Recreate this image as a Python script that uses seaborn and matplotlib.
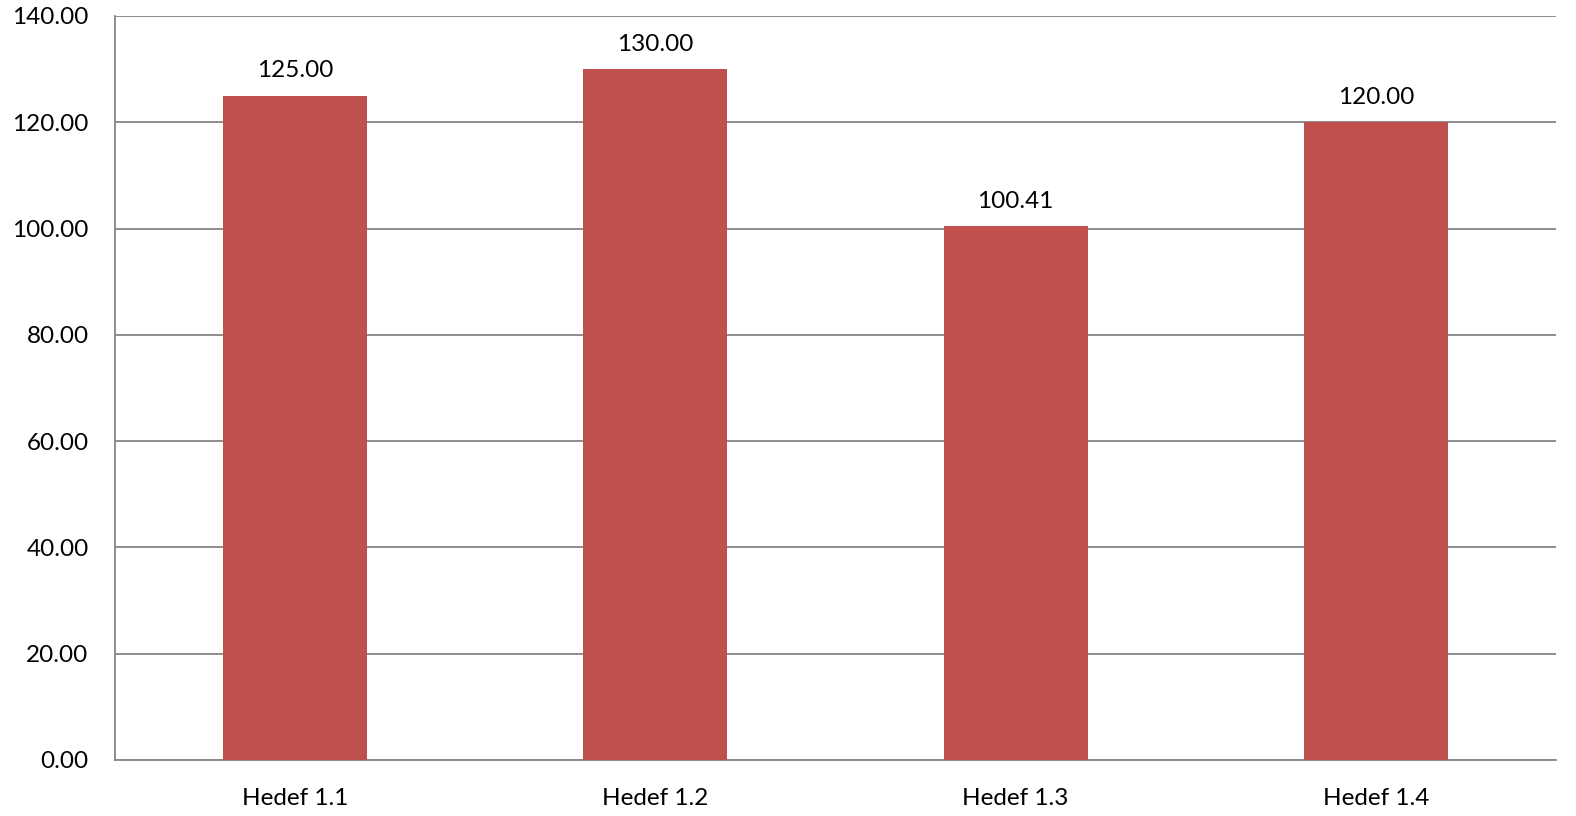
import matplotlib
matplotlib.use("Agg")
import matplotlib.pyplot as plt
import seaborn as sns
import pandas as pd

categories = ["Hedef 1.1", "Hedef 1.2", "Hedef 1.3", "Hedef 1.4"]
values = [125.00, 130.00, 100.41, 120.00]
yticks = [0, 20, 40, 60, 80, 100, 120, 140]

sns.set_style("white")
plt.rcParams['font.family'] = ['Lato', 'DejaVu Sans']

df = pd.DataFrame({"cat": categories, "val": values})

fig = plt.figure(figsize=(15.76, 8.16), dpi=100)
ax = fig.add_axes([115/1576, 1 - 760/816, (1556-115)/1576, (760-16)/816])

sns.barplot(data=df, x="cat", y="val", color="#C0504D", saturation=1,
            width=0.40, ax=ax, zorder=3, linewidth=0, edgecolor="none")

ax.set_ylim(0, 140)
ax.set_xlim(-0.5, len(categories) - 0.5)
ax.set_yticks(yticks)
ax.set_yticklabels([f"{v:.2f}" for v in yticks])
ax.yaxis.grid(True, color="#868686", linewidth=1.3, zorder=0)
ax.set_axisbelow(True)
ax.set_xlabel("")
ax.set_ylabel("")

for s in ["top", "right"]:
    ax.spines[s].set_visible(False)
for s in ["left", "bottom"]:
    ax.spines[s].set_color("#868686")
    ax.spines[s].set_linewidth(1.3)

ax.tick_params(axis="y", length=0, pad=19, labelsize=17.5, labelcolor="black")
ax.tick_params(axis="x", length=0, pad=20, labelsize=17.5, labelcolor="black")

for i, v in enumerate(values):
    ax.annotate(f"{v:.2f}", xy=(i, v), xytext=(0, 10.5), textcoords="offset points",
                ha="center", va="bottom", fontsize=17.5, color="black")

fig.savefig("out.png", dpi=100)
